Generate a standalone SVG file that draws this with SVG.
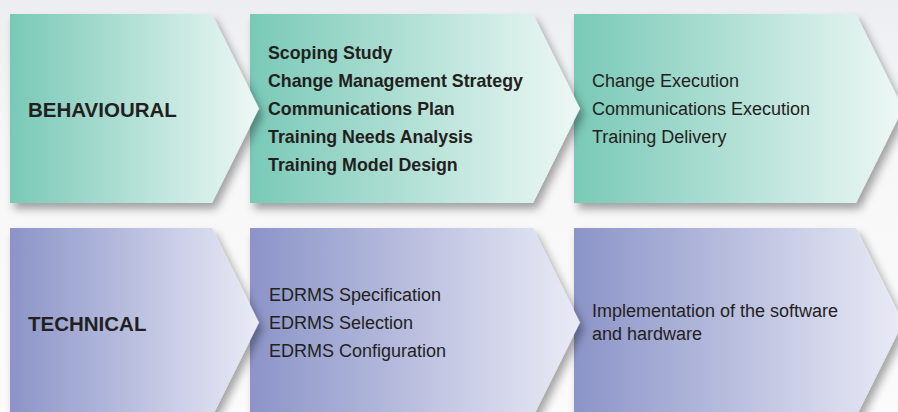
<svg xmlns="http://www.w3.org/2000/svg" width="898" height="412" viewBox="0 0 898 412">
<defs>
<linearGradient id="bg" x1="0" y1="0" x2="0" y2="1">
<stop offset="0" stop-color="#eceef1"/>
<stop offset="0.35" stop-color="#f7f7f8"/>
<stop offset="1" stop-color="#fbfbfb"/>
</linearGradient>
<linearGradient id="teal" x1="0" y1="0" x2="1" y2="0">
<stop offset="0" stop-color="#79c9b7"/>
<stop offset="1" stop-color="#eef8f5"/>
</linearGradient>
<linearGradient id="purple" x1="0" y1="0" x2="1" y2="0">
<stop offset="0" stop-color="#8b94c8"/>
<stop offset="1" stop-color="#eaebf6"/>
</linearGradient>
<filter id="sh" x="-10%" y="-10%" width="130%" height="130%">
<feDropShadow dx="4" dy="6" stdDeviation="4" flood-color="#000" flood-opacity="0.35"/>
</filter>
<style>
text{font-family:"Liberation Sans",Arial,sans-serif;fill:#231f20}
.h{font-size:20.5px;font-weight:bold}
.b{font-size:17.8px;font-weight:bold}
.r{font-size:18px}
.teal{fill:url(#teal)}
.purple{fill:url(#purple)}
.chev{filter:url(#sh)}
</style>
</defs>
<rect width="898" height="412" fill="url(#bg)"/>

<g id="behavioural-3">
<path class="chev teal" d="M574 14 H856 L903 108.5 L856 203 H574 Z"/>
<text class="r" x="592" y="87">Change Execution</text>
<text class="r" x="592" y="115">Communications Execution</text>
<text class="r" x="592" y="143">Training Delivery</text>
</g>
<g id="behavioural-2">
<path class="chev teal" d="M250 14 H533 L580 108.5 L533 203 H250 Z"/>
<text class="b" x="268" y="59">Scoping Study</text>
<text class="b" x="268" y="87">Change Management Strategy</text>
<text class="b" x="268" y="115">Communications Plan</text>
<text class="b" x="268" y="143">Training Needs Analysis</text>
<text class="b" x="268" y="171">Training Model Design</text>
</g>
<g id="behavioural-1">
<path class="chev teal" d="M10 14 H212 L259 108.5 L212 203 H10 Z"/>
<text class="h" x="28" y="117">BEHAVIOURAL</text>
</g>

<g id="technical-3">
<path class="chev purple" d="M574 228 H856 L903 322.5 L856 417 H574 Z"/>
<text class="r" x="592" y="317">Implementation of the software</text>
<text class="r" x="592" y="340">and hardware</text>
</g>
<g id="technical-2">
<path class="chev purple" d="M250 228 H533 L580 322.5 L533 417 H250 Z"/>
<text class="r" x="269" y="301">EDRMS Specification</text>
<text class="r" x="269" y="329">EDRMS Selection</text>
<text class="r" x="269" y="357">EDRMS Configuration</text>
</g>
<g id="technical-1">
<path class="chev purple" d="M10 228 H212 L259 322.5 L212 417 H10 Z"/>
<text class="h" x="28" y="331">TECHNICAL</text>
</g>
<g id="connectors"/>
</svg>
